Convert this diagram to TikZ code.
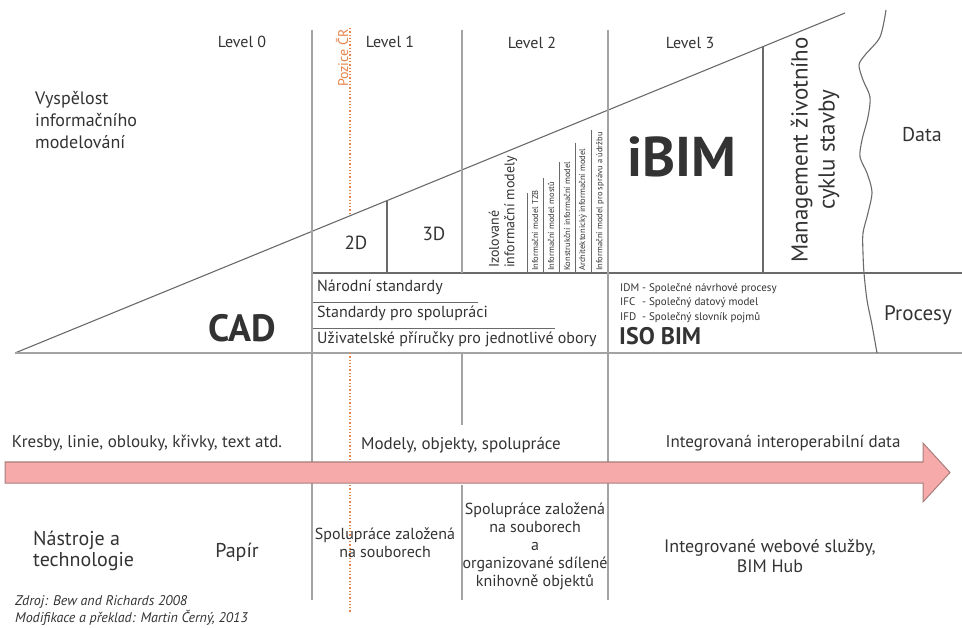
\documentclass[tikz,border=0pt]{standalone}
\usepackage{fontspec}
\setmainfont{PT Sans}
\usepackage{tikz}

\definecolor{levelgray}{HTML}{A3A3A3}
\definecolor{cellgray}{HTML}{6A6A6A}
\definecolor{textgray}{HTML}{333333}
\definecolor{poziceorange}{HTML}{E8844A}
\definecolor{arrowpink}{HTML}{F7AAAA}
\definecolor{arrowedge}{HTML}{A87E7E}

\newcommand{\fs}[1]{\fontsize{#1}{#1}\selectfont}

\begin{document}
\begin{tikzpicture}[x=1pt,y=-1pt,
  level/.style={levelgray,line width=2.8pt},
  cell/.style={cellgray,line width=1.1pt},
  thinline/.style={cellgray,line width=0.7pt},
  txt/.style={text=textgray,inner sep=0pt,font=\fs{17}},
  tiny/.style={text=textgray,inner sep=0pt,font=\fs{8.5},rotate=90,anchor=west}]

\useasboundingbox (0,0) rectangle (962,628);

% triangle and table
\coordinate (start) at (15,353);
\coordinate (top) at (845,13);
\draw[cell] (start) -- (top);
\draw[level] (15,353) -- (962,353);
\draw[cell] (312,273) -- (962,273);
\draw[thinline] (312,302) -- (478,302);
\draw[thinline] (312,328) -- (555,328);
\draw[cell] (387,200.6) -- (387,273);
\draw[cell] (763,46.6) -- (763,273);
\foreach \x/\y in {527/193,543/178,559/162,575/143,591/130}
  \draw[thinline] (\x,\y) -- (\x,273);
%\draw[very thin,color=gray] (0,0) grid[step=50] (962,628);

% level lines
\draw[level] (312,30) -- (312,600);
\draw[level] (462,30) -- (462,273);
\draw[level] (462,353) -- (462,425);
\draw[level] (462,485) -- (462,600);
\draw[level] (608,30) -- (608,600);

% wave between processes and data
\draw[cell] plot[smooth] coordinates {(886,10) (880,37) (865,55) (859,65) (863,80) (870,97)
  (868,117) (862,140) (860,157) (867,173) (872,192) (868,213) (863,233) (863,253)
  (864,273) (867,300) (872,325) (877,353)};

% Pozice CR
\draw[poziceorange,dotted,line width=1.3pt] (350,28) -- (350,215.8);
\draw[poziceorange,dotted,line width=1.3pt] (350,353) -- (350,612);
\node[text=poziceorange,inner sep=0pt,font=\fs{14},rotate=90] (pozice) at (342,58) {Pozice ČR};

% big arrow
\draw[fill=arrowpink,draw=arrowedge,line width=1pt] (5,462) -- (923,462) -- (923,443)
  -- (950,472.5) -- (923,502) -- (923,483) -- (5,483) -- cycle;

% headings
\node[txt,font=\fs{16}] (lev0) at (242,42) {Level 0};
\node[txt,font=\fs{16}] (lev1) at (390,42) {Level 1};
\node[txt,font=\fs{16}] (lev2) at (532,43) {Level 2};
\node[txt,font=\fs{16}] (lev3) at (690,43) {Level 3};
\node[txt,font=\fontsize{18}{22}\selectfont,anchor=north west,align=left] (vyspelost) at (35,91)
  {Vyspělost\\informačního\\modelování};

% upper part
\node[txt,font=\bfseries\fs{38}] (cad) at (242,328) {CAD};
\node[txt,font=\fs{19}] (d2) at (356,243) {2D};
\node[txt,font=\fs{19}] (d3) at (434,234) {3D};
\node[txt,font=\fs{16},anchor=base west] (narodni) at (317,292) {Národní standardy};
\node[txt,font=\fs{16},anchor=base west] (spoluprace) at (317,318) {Standardy pro spolupráci};
\node[txt,font=\fs{16},anchor=base west] (prirucky) at (317,344) {Uživatelské příručky pro jednotlivé obory};
\node[txt,font=\fontsize{14}{15.5}\selectfont,rotate=90,anchor=west,align=left] (izolovane) at (503,268)
  {Izolované\\informační modely};
\node[tiny] (tzb) at (535,271) {Informační model TZB};
\node[tiny] (mostu) at (551,271) {Informační model mostů};
\node[tiny] (konstr) at (567,271) {Konstrukční informační model};
\node[tiny] (archi) at (583,271) {Architektonický informační model};
\node[tiny] (sprava) at (600,271) {Informační model pro správu a údržbu};
\node[txt,font=\bfseries\fs{56}] (ibim) at (682,157) {iBIM};
\node[txt,font=\fontsize{23}{27}\selectfont,rotate=90,align=center] (management) at (815,150)
  {Management životního\\cyklu stavby};
\node[txt,font=\fs{20}] (data) at (922,135) {Data};
\node[txt,font=\fs{21}] (procesy) at (918,315) {Procesy};
\node[txt,font=\fontsize{11}{14.5}\selectfont,anchor=north west] (idm) at (620,281)
  {\begin{tabular}{@{}l@{\ - }l@{}}IDM & Společné návrhové procesy\\
   IFC & Společný datový model\\ IFD & Společný slovník pojmů\end{tabular}};
\node[txt,font=\bfseries\fs{24},anchor=base west] (isobim) at (619,345) {ISO BIM};

% lower part
\node[txt] (kresby) at (147,443) {Kresby, linie, oblouky, křivky, text atd.};
\node[txt] (modely) at (461,445) {Modely, objekty, spolupráce};
\node[txt] (integrovana) at (783,443) {Integrovaná interoperabilní data};
\node[txt,font=\fontsize{20}{21}\selectfont,anchor=base west,align=left] (nastroje) at (33,566)
  {Nástroje a\\technologie};
\node[txt,font=\fs{20}] (papir) at (237,552) {Papír};
\node[txt,font=\fontsize{16}{18}\selectfont,align=center] (soubory) at (385,543)
  {Spolupráce založená\\na souborech};
\node[txt,font=\fontsize{16}{18}\selectfont,align=center,anchor=north] (knihovny) at (535,503)
  {Spolupráce založená\\na souborech\\a\\organizované sdílené\\knihovně objektů};
\node[txt,font=\fontsize{18}{20}\selectfont,align=center] (webove) at (770,556)
  {Integrované webové služby,\\BIM Hub};
\node[txt,font=\itshape\fs{14},anchor=base west] (zdroj) at (15,605) {Zdroj: Bew and Richards 2008};
\node[txt,font=\itshape\fs{14},anchor=base west] (preklad) at (15,622) {Modifikace a překlad: Martin Černý, 2013};
\end{tikzpicture}
\end{document}
